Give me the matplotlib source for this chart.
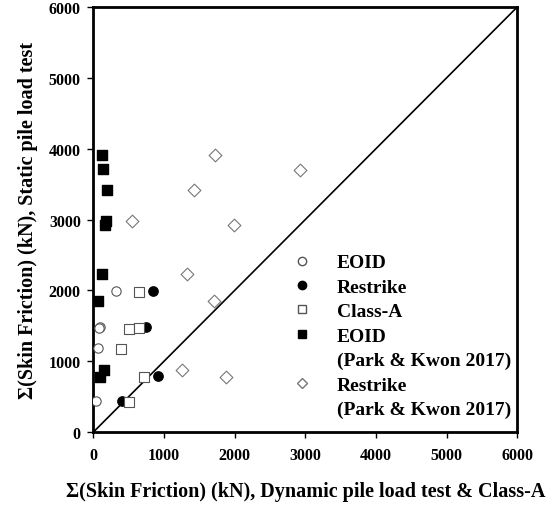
import matplotlib
matplotlib.use("Agg")
import matplotlib.pyplot as plt
from matplotlib.lines import Line2D

plt.rcParams['font.family'] = ['Liberation Serif', 'DejaVu Serif']
plt.rcParams['font.weight'] = 'bold'

# --- data (kN) ---
eoid_x = [322, 95, 80, 71, 38]
eoid_y = [1986, 1490, 1465, 1186, 438]

restrike_x = [851, 747, 922, 411]
restrike_y = [1986, 1482, 786, 438]

classa_x = [643, 506, 652, 388, 723, 506]
classa_y = [1976, 1449, 1473, 1176, 776, 424]

pk_eoid_x = [118, 142, 189, 180, 165, 118, 71, 151, 95]
pk_eoid_y = [3906, 3708, 3412, 2979, 2927, 2235, 1849, 871, 776]

pk_restrike_x = [1716, 1428, 553, 1986, 1324, 1702, 1253, 1882, 2924]
pk_restrike_y = [3906, 3412, 2979, 2918, 2235, 1849, 880, 776, 3696]

lim = [0, 6000]
ticks = [0, 1000, 2000, 3000, 4000, 5000, 6000]

fig = plt.figure(figsize=(5.49, 5.06), dpi=100)
ax = fig.add_axes([0.170, 0.144, 0.772, 0.840])

ax.plot(lim, lim, color='black', lw=1.2, zorder=1)

ax.scatter(eoid_x, eoid_y, s=45, marker='o', facecolors='white',
           edgecolors='#555555', linewidths=0.8, zorder=3)
ax.scatter(restrike_x, restrike_y, s=45, marker='o', facecolors='black',
           edgecolors='black', zorder=3)
ax.scatter(classa_x, classa_y, s=55, marker='s', facecolors='white',
           edgecolors='#555555', linewidths=0.8, zorder=3)
ax.scatter(pk_eoid_x, pk_eoid_y, s=55, marker='s', facecolors='black',
           edgecolors='black', zorder=3)
ax.scatter(pk_restrike_x, pk_restrike_y, s=42, marker='D', facecolors='white',
           edgecolors='#777777', linewidths=0.8, zorder=3)

ax.set_xlim(lim)
ax.set_ylim(lim)
ax.set_xticks(ticks)
ax.set_yticks(ticks)
ax.tick_params(direction='out', length=4, width=1, labelsize=11.5)
ax.tick_params(axis='x', pad=7)
ax.tick_params(axis='y', pad=5)
for sp in ax.spines.values():
    sp.set_linewidth(2)

ax.set_xlabel('Σ(Skin Friction) (kN), Dynamic pile load test & Class-A',
              fontsize=14.5, fontweight='bold', labelpad=13)
ax.set_ylabel('Σ(Skin Friction) (kN), Static pile load test',
              fontsize=14.5, fontweight='bold', labelpad=8)

# legend (second lines as entries without markers)
blank = Line2D([], [], linestyle='none')
handles = [
    Line2D([], [], ls='none', marker='o', mfc='white', mec='#555555', ms=6),
    Line2D([], [], ls='none', marker='o', mfc='black', mec='black', ms=6),
    Line2D([], [], ls='none', marker='s', mfc='white', mec='#555555', ms=6),
    Line2D([], [], ls='none', marker='s', mfc='black', mec='black', ms=6),
    blank,
    Line2D([], [], ls='none', marker='D', mfc='white', mec='#777777', ms=5.5),
    blank,
]
labels = ['EOID', 'Restrike', 'Class-A', 'EOID', '(Park & Kwon 2017)',
          'Restrike', '(Park & Kwon 2017)']
ax.legend(handles, labels, loc='upper left', bbox_to_anchor=(0.428, 0.438),
          borderaxespad=0, frameon=False, prop={'size': 14, 'weight': 'bold'},
          handletextpad=0.8, labelspacing=0.35)

fig.savefig('out.png', dpi=100)
